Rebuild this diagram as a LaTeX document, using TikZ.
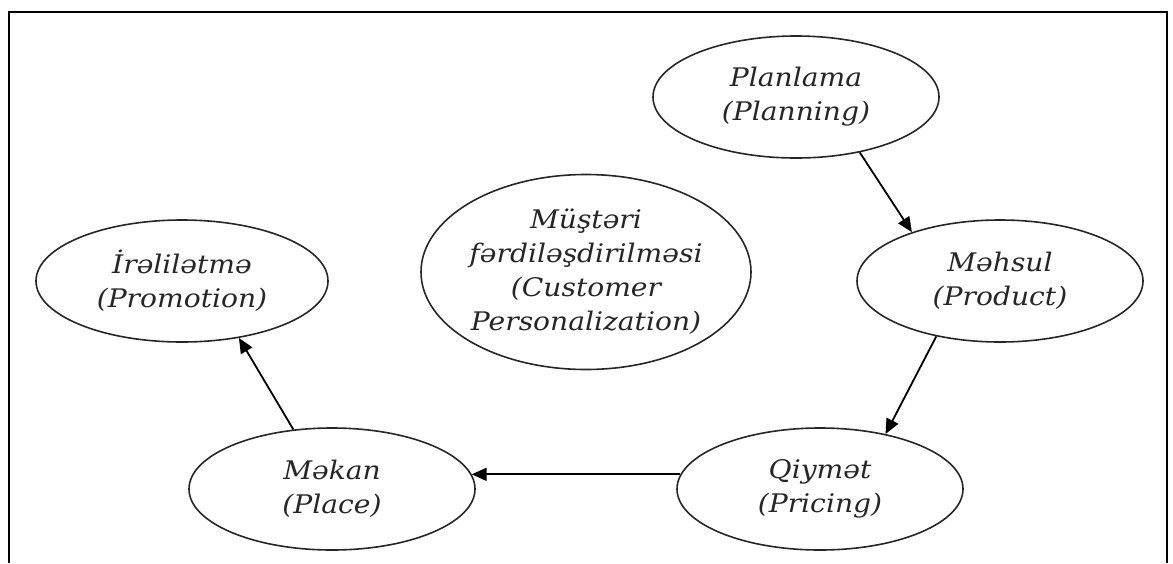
\documentclass[tikz,border=0pt]{standalone}
\usepackage{fontspec}
\setmainfont{DejaVu Serif}[FakeStretch=1.1]
\usetikzlibrary{shapes.geometric,arrows.meta}
\begin{document}
\begin{tikzpicture}[x=0.5pt,y=-0.5pt,
  oval/.style={ellipse,draw=black!85,line width=0.8pt,inner sep=0pt,
    minimum width=143pt,minimum height=61pt,align=center,text=black!85,
    font=\itshape\fontsize{12.8}{17}\selectfont},
  conn/.style={draw=black,line width=0.9pt,-{Triangle[length=7.5pt,width=6.5pt]}}]
\useasboundingbox (0,0) rectangle (1173,563);
\draw[line width=1.3pt] (9,563) -- (9,12) -- (1167,12) -- (1167,563);
\node[oval] (plan) at (796,97) {Planlama\\(Planning)};
\node[oval] (mah) at (1000,281) {Məhsul\\(Product)};
\node[oval] (qiy) at (820,489) {Qiymət\\(Pricing)};
\node[oval] (mak) at (332,489) {Məkan\\(Place)};
\node[oval,minimum width=146pt] (ire) at (182,281) {İrəlilətmə\\(Promotion)};
\node[oval,minimum width=165pt,minimum height=97.5pt] (mus) at (586,272)
  {Müştəri\\fərdiləşdirilməsi\\(Customer\\Personalization)};
\draw[conn] (plan.-41) -- (mah.151);
\draw[conn] (mah.221) -- (qiy.40);
\draw[conn] (qiy.174) -- (mak.6);
\draw[conn] (mak.123) -- (ire.-45);
\end{tikzpicture}
\end{document}
